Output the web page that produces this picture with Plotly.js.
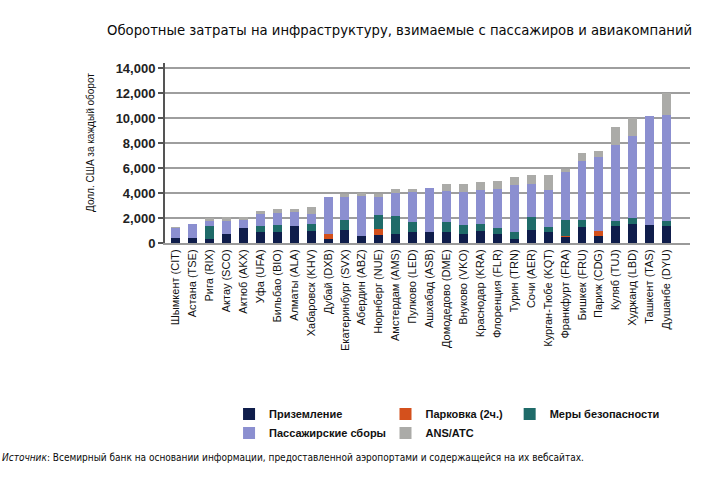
<!DOCTYPE html>
<html>
<head>
<meta charset="utf-8">
<script src="https://cdn.plot.ly/plotly-3.0.1.min.js"></script>
<style>
  html, body { margin: 0; padding: 0; background: #fff; }
  #chart { width: 709px; height: 478px; }
</style>
</head>
<body>
<div id="chart"></div>
<script>
// ─── data (USD per turnaround) ──────────────────────────────
var airports = [
  'Шымкент (CIT)', 'Астана (TSE)', 'Рига (RIX)', 'Актау (SCO)', 'Актюб (AKX)',
  'Уфа (UFA)', 'Бильбао (BIO)', 'Алматы (ALA)', 'Хабаровск (KHV)', 'Дубай (DXB)',
  'Екатеринбург (SVX)', 'Абердин (ABZ)', 'Нюрнберг (NUE)', 'Амстердам (AMS)', 'Пулково (LED)',
  'Ашхабад (ASB)', 'Домодедово (DME)', 'Внуково (VKO)', 'Краснодар (KRA)', 'Флоренция (FLR)',
  'Турин (TRN)', 'Сочи (AER)', 'Курган-Тюбе (KQT)', 'Франкфурт (FRA)', 'Бишкек (FRU)',
  'Париж (CDG)', 'Куляб (TUJ)', 'Худжанд (LBD)', 'Ташкент (TAS)', 'Душанбе (DYU)'
];
var landing = [380, 400, 350, 700, 1200, 850, 850, 1350, 950, 350,
               1050, 600, 650, 700, 850, 900, 850, 700, 1000, 750,
               350, 1050, 900, 450, 1300, 550, 1350, 1500, 1450, 1350];
var parking = [0, 0, 0, 0, 0, 0, 0, 0, 0, 400,
               0, 0, 450, 0, 0, 0, 0, 0, 0, 0,
               0, 0, 0, 100, 0, 450, 0, 0, 0, 0];
var security = [0, 0, 1000, 0, 0, 550, 600, 0, 550, 0,
                800, 0, 1150, 1500, 850, 0, 800, 750, 550, 450,
                550, 1050, 350, 1300, 550, 0, 450, 500, 0, 450];
var passenger = [800, 1150, 400, 1100, 650, 900, 950, 1150, 800, 2900,
                 1800, 3150, 1400, 1800, 2350, 3500, 2550, 2600, 2700, 3100,
                 3750, 2650, 3000, 3850, 4700, 5850, 6050, 6550, 8700, 8450];
var ansAtc = [120, 0, 250, 250, 200, 300, 300, 200, 600, 50,
              300, 250, 300, 300, 300, 0, 550, 700, 600, 650,
              650, 700, 1200, 200, 650, 500, 1450, 1450, 0, 1750];

var yTicks = [0, 2000, 4000, 6000, 8000, 10000, 12000, 14000];

// ─── traces, bottom to top ──────────────────────────────────
var series = [
  { name: 'Приземление', y: landing, color: '#0f1d4b', legend: 'legend' },
  { name: 'Парковка (2ч.)', y: parking, color: '#d4501c', legend: 'legend2' },
  { name: 'Меры безопасности', y: security, color: '#1f6b69', legend: 'legend3' },
  { name: 'Пассажирские сборы', y: passenger, color: '#8b8fd0', legend: 'legend' },
  { name: 'ANS/ATC', y: ansAtc, color: '#ababa8', legend: 'legend2' }
];

var traces = series.map(function (s) {
  return {
    type: 'bar', name: s.name, x: airports, y: s.y,
    marker: { color: s.color, line: { width: 0 } },
    legend: s.legend,
    hovertemplate: '%{x}<br>' + s.name + ': %{y:,}<extra></extra>'
  };
});

var sans = 'Liberation Sans, Arial, sans-serif';
var narrow = '"DejaVu Sans Condensed", "Liberation Sans Narrow", sans-serif';
var legendBase = {
  orientation: 'v', traceorder: 'normal', yanchor: 'top', xanchor: 'left',
  y: -0.87, bgcolor: 'rgba(0,0,0,0)', itemwidth: 30,
  font: { family: sans, size: 11, color: '#111', weight: 'bold' }
};

var layout = {
  width: 709, height: 478,
  margin: { l: 165, r: 19, t: 63, b: 235 },
  paper_bgcolor: '#fff', plot_bgcolor: '#fff',
  barmode: 'stack', bargap: 0.47,
  title: {
    text: 'Оборотные затраты на инфраструктуру, взимаемые с пассажиров и авиакомпаний',
    x: 0.151, xanchor: 'left', xref: 'container',
    y: 0.937, yanchor: 'middle', yref: 'container',
    font: { family: narrow, size: 14.7, color: '#0a0a0a' }
  },
  xaxis: {
    type: 'category', range: [-0.63, 30.38],
    tickangle: -90, ticks: '', automargin: false,
    tickfont: { family: sans, size: 11, color: '#111' },
    showline: true, linecolor: '#9a9a9a', linewidth: 2, showgrid: false
  },
  yaxis: {
    range: [0, 14400], tickvals: yTicks, tickformat: ',d',
    ticks: 'outside', ticklen: 5, tickwidth: 1.5, tickcolor: '#555',
    tickfont: { family: sans, size: 13, color: '#222', weight: 'bold' },
    showline: true, linecolor: '#555', linewidth: 2,
    showgrid: true, gridcolor: '#9e9e9e', gridwidth: 1.5, zeroline: false,
    automargin: false
  },
  legend: Object.assign({}, legendBase, { x: 0.122 }),
  legend2: Object.assign({}, legendBase, { x: 0.420 }),
  legend3: Object.assign({}, legendBase, { x: 0.6565 }),
  annotations: [{
    // y-axis title
    text: 'Долл. США за каждый оборот',
    xref: 'paper', yref: 'paper', x: -0.143, y: 0.561,
    xanchor: 'center', yanchor: 'middle', textangle: -90, showarrow: false,
    font: { family: sans, size: 10, color: '#111' }
  }, {
    text: '<i>Источник</i>: Всемирный банк на основании информации, предоставленной аэропортами и содержащейся на их вебсайтах.',
    xref: 'paper', yref: 'paper', x: -0.314, y: -1.194,
    xanchor: 'left', yanchor: 'middle', showarrow: false,
    font: { family: narrow, size: 10, color: '#0a0a0a' }
  }]
};

Plotly.newPlot('chart', traces, layout, { displayModeBar: false, staticPlot: true });
</script>
</body>
</html>
